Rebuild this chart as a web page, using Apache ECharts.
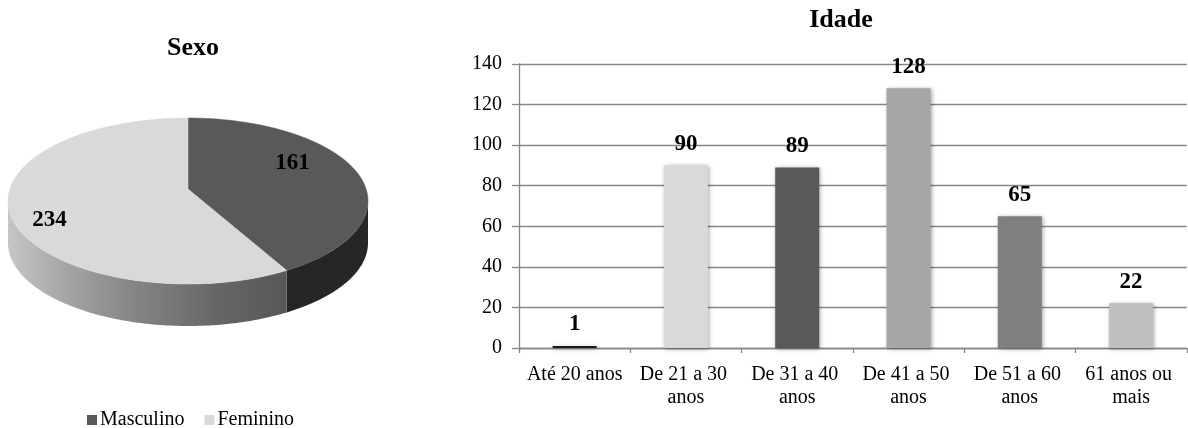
<!DOCTYPE html>
<html>
<head>
<meta charset="utf-8">
<script src="https://cdn.jsdelivr.net/npm/echarts@6/dist/echarts.min.js"></script>
<style>
html,body{margin:0;padding:0;background:#fff;}
#chart{width:1188px;height:428px;}
</style>
</head>
<body>
<div id="chart"></div>
<script>
// ---- Data ----
const sexNames = ['Masculino', 'Feminino'];
const sexValues = [161, 234];
const ageCategories = ['Até 20 anos', 'De 21 a 30 anos', 'De 31 a 40 anos', 'De 41 a 50 anos', 'De 51 a 60 anos', '61 anos ou mais'];
const ageValues = [1, 90, 89, 128, 65, 22];
const yAxisMin = 0, yAxisMax = 140, yAxisStep = 20;

// ---- Styles ----
const FONT = "'Liberation Serif', 'Times New Roman', serif";
const sexTopColors = ['#595959', '#d9d9d9'];
const sexSideFills = [
  '#262626',
  {type: 'linear', x: 0, y: 0, x2: 1, y2: 0, colorStops: [
    {offset: 0, color: '#c6c6c6'}, {offset: 0.2, color: '#a6a6a6'},
    {offset: 0.45, color: '#858585'}, {offset: 0.75, color: '#666666'},
    {offset: 1, color: '#575757'}]}
];
const ageColors = ['#1a1a1a', '#d9d9d9', '#595959', '#a6a6a6', '#7f7f7f', '#bfbfbf'];
const pieGeom = {cx: 188, cy: 201, rx: 180, ry: 83, depth: 42, apexLift: 12};
// label anchor in normalized ellipse units (style only)
const pieLabelAnchor = [[0.58, -0.46], [-0.77, 0.23]];

const chart = echarts.init(document.getElementById('chart'), null, {renderer: 'canvas'});

const total = sexValues.reduce((a, b) => a + b, 0);
function pt(a, dy) {
  const g = pieGeom;
  return [g.cx + g.rx * Math.sin(a), g.cy - g.ry * Math.cos(a) + (dy || 0)];
}
function arc(a0, a1, dy) {
  const pts = [];
  const n = Math.max(8, Math.ceil(Math.abs(a1 - a0) / 0.02));
  for (let k = 0; k <= n; k++) pts.push(pt(a0 + (a1 - a0) * k / n, dy));
  return pts;
}
function makeRender(i) {
  return function (params, api) {
    let cum = 0;
    for (let j = 0; j < i; j++) cum += sexValues[j];
    const a0 = cum / total * 2 * Math.PI;
    const a1 = (cum + sexValues[i]) / total * 2 * Math.PI;
    const g = pieGeom;
    const children = [];
    const s = Math.max(a0, Math.PI / 2), e = Math.min(a1, 3 * Math.PI / 2);
    if (s < e) {
      const top = arc(s, e, 0);
      const bot = arc(e, s, g.depth);
      children.push({type: 'polygon', shape: {points: top.concat(bot)},
        style: {fill: sexSideFills[i], stroke: null}});
    }
    const apex = [g.cx, g.cy - g.apexLift];
    children.push({type: 'polygon', shape: {points: [apex].concat(arc(a0, a1, 0))},
      style: {fill: sexTopColors[i], stroke: sexTopColors[i], lineWidth: 0.5}});
    const la = pieLabelAnchor[i];
    children.push({type: 'text', style: {
      x: g.cx + la[0] * g.rx, y: g.cy + la[1] * g.ry,
      text: String(sexValues[i]), fill: '#000',
      font: 'bold 23px ' + FONT, align: 'center', verticalAlign: 'middle'}});
    return {type: 'group', children: children};
  };
}

const pieSeries = sexNames.map((name, i) => ({
  type: 'custom', name: name, coordinateSystem: 'none',
  itemStyle: {color: sexTopColors[i]},
  renderItem: makeRender(i),
  data: [sexValues[i]], silent: true
}));

const option = {
  animation: false,
  backgroundColor: '#ffffff',
  title: [
    {text: 'Sexo', left: 188, top: 30, textAlign: 'center',
      textStyle: {fontFamily: FONT, fontWeight: 'bold', fontSize: 26, color: '#000'}},
    {text: 'Idade', left: 836, top: 2, textAlign: 'center',
      textStyle: {fontFamily: FONT, fontWeight: 'bold', fontSize: 26, color: '#000'}}
  ],
  legend: {
    data: sexNames, left: 82, top: 405, icon: 'rect', itemWidth: 10, itemHeight: 10,
    itemGap: 20, textStyle: {fontFamily: FONT, fontSize: 20, color: '#000', padding: [0, 0, 0, -2]},
    selectedMode: false
  },
  grid: {left: 519, right: 0, top: 64, bottom: 80, containLabel: false},
  xAxis: {
    type: 'category', data: ageCategories,
    axisLine: {lineStyle: {color: '#868686', width: 1.3}},
    axisTick: {show: true, length: 5, lineStyle: {color: '#868686', width: 1.3}},
    axisLabel: {fontFamily: FONT, fontSize: 20, color: '#000', margin: 15, lineHeight: 23,
      width: 108, overflow: 'break', interval: 0}
  },
  yAxis: {
    type: 'value', min: yAxisMin, max: yAxisMax, interval: yAxisStep,
    axisLine: {show: true, lineStyle: {color: '#868686', width: 1.3}},
    axisTick: {show: true, length: 7, lineStyle: {color: '#868686', width: 1.3}},
    splitLine: {lineStyle: {color: '#868686', width: 1.3}},
    axisLabel: {fontFamily: FONT, fontSize: 20, color: '#000', margin: 17}
  },
  series: [
    {
      type: 'bar', name: 'Idade', barWidth: 44,
      data: ageValues.map((v, i) => ({value: v, itemStyle: {color: ageColors[i]}})),
      itemStyle: {shadowBlur: 4, shadowColor: 'rgba(0,0,0,0.35)', shadowOffsetX: 1, shadowOffsetY: 1},
      label: {show: true, position: 'top', distance: 10, fontFamily: FONT, fontWeight: 'bold',
        fontSize: 23, color: '#000'}
    }
  ].concat(pieSeries)
};
chart.setOption(option);
</script>
</body>
</html>
